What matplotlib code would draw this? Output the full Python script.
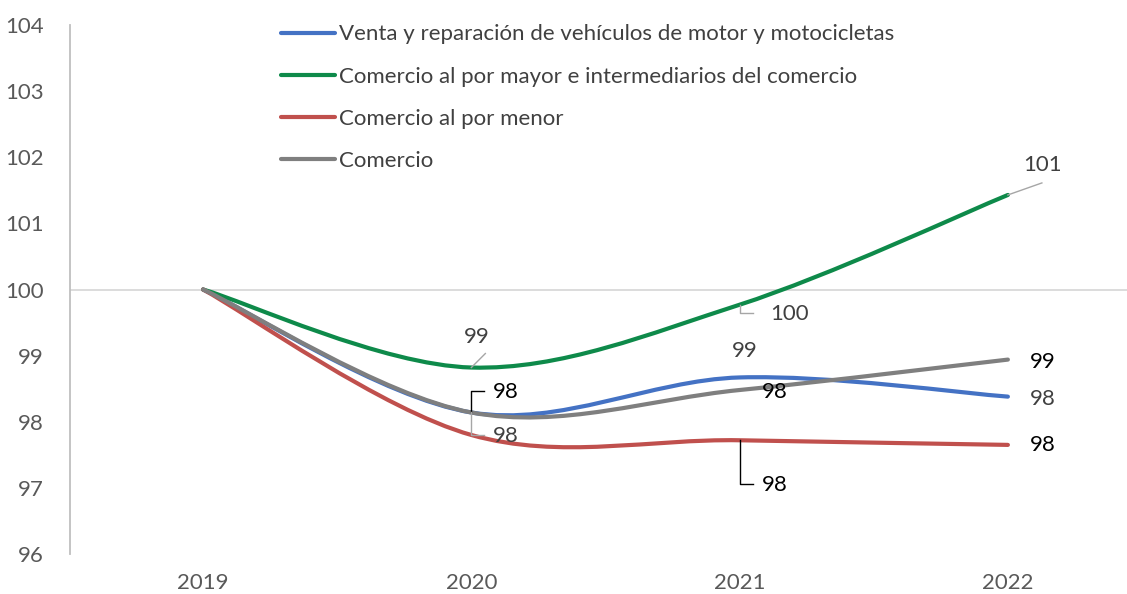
import matplotlib
matplotlib.use('Agg')
import matplotlib.pyplot as plt
from matplotlib.path import Path
from matplotlib.patches import PathPatch
from matplotlib.lines import Line2D
from matplotlib.transforms import IdentityTransform
import numpy as np

plt.rcParams['font.family'] = ['Lato', 'DejaVu Sans']

years = [2019, 2020, 2021, 2022]
venta = [100.0, 98.14, 98.67, 98.38]
mayor = [100.0, 98.82, 99.77, 101.43]
menor = [100.0, 97.80, 97.72, 97.65]
comercio = [100.0, 98.14, 98.48, 98.94]

series = [
    ("Venta y reparación de vehículos de motor y motocicletas", venta, '#4472C4'),
    ("Comercio al por mayor e intermediarios del comercio", mayor, '#0E8A4A'),
    ("Comercio al por menor", menor, '#C0504D'),
    ("Comercio", comercio, '#7F7F7F'),
]


def smooth_path(xs, ys):
    # Excel-like smoothed line: cubic Bezier with Catmull-Rom control points
    pts = np.column_stack([xs, ys]).astype(float)
    n = len(pts)
    verts = [pts[0]]
    codes = [Path.MOVETO]
    for i in range(n - 1):
        p0 = pts[max(i - 1, 0)]
        p1 = pts[i]
        p2 = pts[i + 1]
        p3 = pts[min(i + 2, n - 1)]
        c1 = p1 + (p2 - p0) / 6.0
        c2 = p2 - (p3 - p1) / 6.0
        verts += [c1, c2, p2]
        codes += [Path.CURVE4] * 3
    return Path(verts, codes)


fig = plt.figure(figsize=(11.27, 5.94), dpi=100)
ax = fig.add_axes([70 / 1127, 1 - 554 / 594, 1 - 70 / 1127, (554 - 25) / 594])
ax.set_xlim(2018.504, 2022.444)
ax.set_ylim(96, 104)

for name, vals, col in series:
    patch = PathPatch(smooth_path(years, vals), facecolor='none', edgecolor=col,
                      lw=3.0, capstyle='round', joinstyle='round', zorder=3)
    ax.add_patch(patch)

ax.axhline(100, color='#D9D9D9', lw=1.3, zorder=1)

for s in ['top', 'right', 'bottom']:
    ax.spines[s].set_visible(False)
ax.spines['left'].set_color('#BFBFBF')
ax.spines['left'].set_linewidth(1.3)

ax.set_yticks(range(96, 105))
ax.set_xticks(years)
ax.set_xticklabels([str(y) for y in years])
ax.tick_params(axis='both', length=0, colors='#595959', labelsize=16)
ax.tick_params(axis='y', pad=19)
ax.tick_params(axis='x', pad=14)
for t in ax.get_yticklabels():
    t.set_horizontalalignment('right')

# legend
handles = [Line2D([], [], color=c, lw=3.0, solid_capstyle='round') for _, _, c in series]
leg = ax.legend(handles, [n for n, _, _ in series], loc='upper left',
                bbox_to_anchor=(191 / 1057, 1.039), frameon=False, fontsize=16,
                handlelength=2.43, handletextpad=0.18, labelspacing=1.0,
                labelcolor='#404040')

# data labels: (series values, year index, text offset px, leader offsets px, text colour, leader colour)
dark = '#404040'
lgray = '#A6A6A6'
labels = [
    (mayor, 1, (5, 31), [(0, 0), (14, 14)], dark, lgray),
    (mayor, 2, (50, -9), [(0, 0), (0, -8), (13, -8)], dark, lgray),
    (mayor, 3, (35, 30), [(0, 0), (34, 12)], dark, lgray),
    (comercio, 1, (34, 20), [(0, 0), (0, 21), (13, 21)], 'black', 'black'),
    (venta, 1, (34, -24), [(0, 0), (0, -23), (13, -23)], dark, lgray),
    (venta, 2, (5, 26), None, dark, None),
    (comercio, 2, (35, -2), None, 'black', None),
    (menor, 2, (35, -45), [(0, 0), (0, -44), (13, -44)], 'black', 'black'),
    (comercio, 3, (35, -2), None, 'black', None),
    (venta, 3, (35, -2), None, dark, None),
    (menor, 3, (35, 0), None, 'black', None),
]

for vals, i, toff, lead, tcol, lcol in labels:
    px, py = ax.transData.transform((years[i], vals[i]))
    if lead:
        fig.add_artist(Line2D([px + dx for dx, _ in lead], [py + dy for _, dy in lead],
                              transform=IdentityTransform(), color=lcol, lw=1.0))
    fig.text(px + toff[0], py + toff[1], f"{vals[i]:.0f}", transform=IdentityTransform(),
             ha='center', va='center', fontsize=16, color=tcol)

fig.savefig('out.png', dpi=100)
